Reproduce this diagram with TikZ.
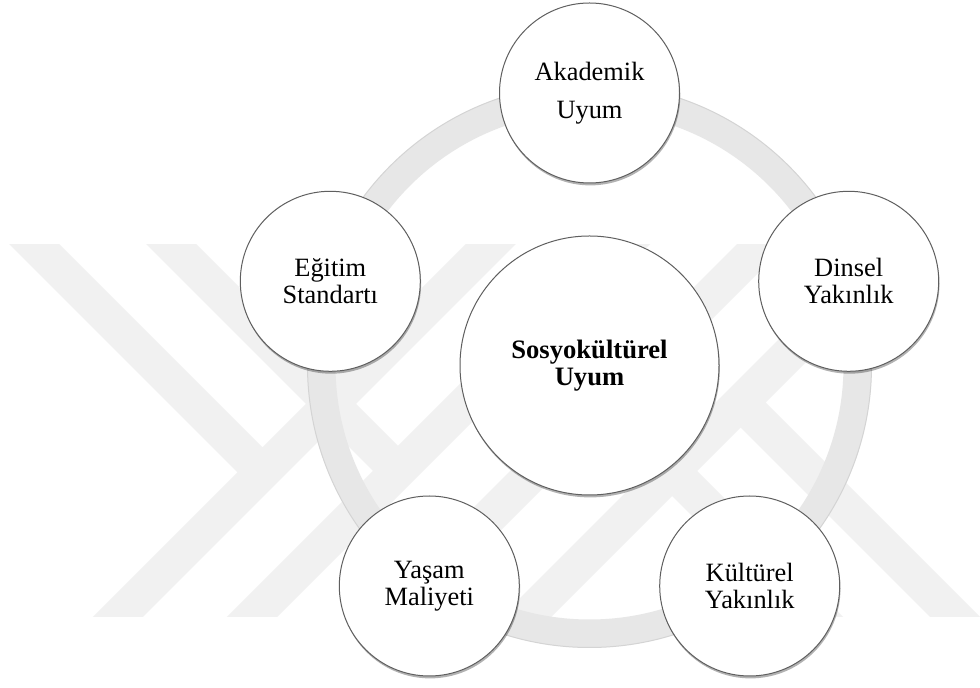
\documentclass[tikz,border=0pt]{standalone}
\usepackage{fontspec}
\setmainfont{Liberation Serif}
\usetikzlibrary{shadows}
\definecolor{wm}{RGB}{241,241,241}
\definecolor{ringc}{RGB}{231,231,231}
\definecolor{ringedge}{RGB}{212,212,212}
\definecolor{circedge}{RGB}{95,95,95}
\tikzset{
  bubble/.style={circle, draw=circedge, line width=0.5pt, fill=white,
    minimum size=90pt, inner sep=0pt, align=center,
    font=\fontsize{13.2}{13.5}\selectfont,
    drop shadow={shadow xshift=0.4pt, shadow yshift=-1.2pt, opacity=0.3, fill=black}},
  hub/.style={bubble, minimum size=129.5pt,
    font=\bfseries\fontsize{13.3}{13.5}\selectfont},
  wmark/.style={fill=wm},
  ringband/.style={draw=ringc, line width=14pt},
  ringline/.style={draw=ringedge, line width=0.5pt}
}
\begin{document}
\begin{tikzpicture}[x=0.5pt,y=-0.5pt]
\useasboundingbox (0,0) rectangle (980,688);
\fill[white] (0,0) rectangle (980,688);
% faint background watermark
\begin{scope}
\clip (0,245) rectangle (980,617);
% left "Y" shapes
\fill[wmark] (510,200)--(560,200)--(60,700)--(10,700)--cycle;
\fill[wmark] (-35,200)--(15,200)--(266,451)--(241,476)--cycle;
\fill[wmark] (644,200)--(694,200)--(194,700)--(144,700)--cycle;
\fill[wmark] (102,200)--(152,200)--(403,451)--(378,476)--cycle;
% right shapes (point-symmetric)
\fill[wmark] (781,200)--(831,200)--(331,700)--(281,700)--cycle;
\fill[wmark] (623.5,397.5)--(926,700)--(876,700)--(598.5,422.5)--cycle;
\fill[wmark] (918,200)--(968,200)--(468,700)--(418,700)--cycle;
\fill[wmark] (760.5,397.5)--(1063,700)--(1013,700)--(735.5,422.5)--cycle;
\end{scope}
% ring
\coordinate (O) at (589.5,365.5);
\path[ringband] (O) circle[radius=134pt];
\path[ringline] (O) circle[radius=141pt];
% nodes
\node[hub] (hub) at (O) {Sosyokültürel\\Uyum};
\node[bubble] (akad) at (589.5,93) {Akademik\\[5.5pt]Uyum};
\node[bubble] (dinsel) at (848.7,281.3) {Dinsel\\Yakınlık};
\node[bubble] (kultur) at (749.7,586) {Kültürel\\Yakınlık};
\node[bubble] (yasam) at (429.3,586) {Yaşam\\Maliyeti};
\node[bubble] (egitim) at (330.3,281.3) {Eğitim\\Standartı};
\end{tikzpicture}
\end{document}
